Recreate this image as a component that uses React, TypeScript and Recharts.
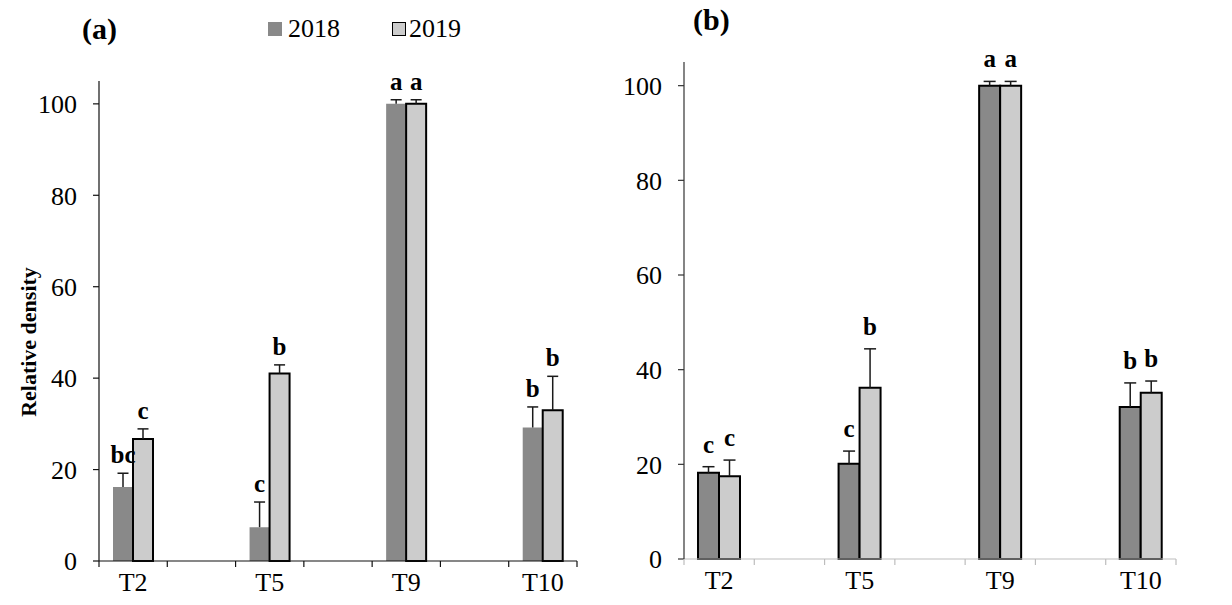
import React from 'react'
import { BarChart, Bar, XAxis, YAxis, LabelList, Legend, Label } from 'recharts'

const FONT = '"Liberation Serif", "Times New Roman", serif'
const DARK = '#898989'
const LIGHT = '#cccccc'

// 7 slots on the axis, the empty ones just give the gaps between groups
const categories = ['T2', '', 'T5', '', 'T9', '', 'T10']
const seriesNames = ['2018', '2019']
const yTicks = [0, 20, 40, 60, 80, 100]

// panel (a)
const a2018 = [16.2, null, 7.4, null, 100, null, 29.2]
const a2018Err = [3.0, null, 5.5, null, 0.9, null, 4.5]
const a2018Sig = ['bc', '', 'c', '', 'a', '', 'b']
const a2019 = [26.7, null, 41.0, null, 100, null, 33.0]
const a2019Err = [2.2, null, 1.9, null, 0.9, null, 7.4]
const a2019Sig = ['c', '', 'b', '', 'a', '', 'b']

// panel (b)
const b2018 = [18.2, null, 20.1, null, 100, null, 32.1]
const b2018Err = [1.3, null, 2.7, null, 0.9, null, 5.1]
const b2018Sig = ['c', '', 'c', '', 'a', '', 'b']
const b2019 = [17.5, null, 36.2, null, 100, null, 35.1]
const b2019Err = [3.4, null, 8.2, null, 0.9, null, 2.5]
const b2019Sig = ['c', '', 'b', '', 'a', '', 'b']

const buildRows = (v18: any[], e18: any[], s18: string[], v19: any[], e19: any[], s19: string[]) =>
  categories.map((name, i) => ({
    id: i,
    name,
    v18: v18[i],
    e18: e18[i],
    s18: s18[i],
    v19: v19[i],
    e19: e19[i],
    s19: s19[i],
  }))

const rowsA = buildRows(a2018, a2018Err, a2018Sig, a2019, a2019Err, a2019Sig)
const rowsB = buildRows(b2018, b2018Err, b2018Sig, b2019, b2019Err, b2019Sig)

// the stacked "error" bar is drawn as a whisker instead of a rect
const whisker = (half: number) => (props: any) => {
  const { x, y, width, height } = props
  if (!height || height <= 0) return <g />
  const cx = x + width / 2
  return (
    <g stroke="#1a1a1a" strokeWidth={1.5}>
      <line x1={cx} y1={y} x2={cx} y2={y + height} />
      <line x1={cx - half} y1={y} x2={cx + half} y2={y} />
    </g>
  )
}

// category labels centred, tick marks on the slot edges
const slotTick = (bandW: number, color: string) => (props: any) => {
  const { x, y, payload } = props
  const i = payload.value as number
  const half = bandW / 2
  return (
    <g>
      <line x1={x - half} y1={y} x2={x - half} y2={y + 6} stroke={color} strokeWidth={1.2} />
      {i === categories.length - 1 && (
        <line x1={x + half} y1={y} x2={x + half} y2={y + 6} stroke={color} strokeWidth={1.2} />
      )}
      <text x={x} y={y + 30} textAnchor="middle" fontSize={26} fontFamily={FONT} fill="#000">
        {categories[i]}
      </text>
    </g>
  )
}

const LegendBox = () => (
  <div style={{ display: 'flex', alignItems: 'center', fontFamily: FONT, fontSize: 26, color: '#000' }}>
    <span style={{ display: 'inline-block', width: 14, height: 14, background: DARK, marginRight: 6 }} />
    <span>{seriesNames[0]}</span>
    <span
      style={{
        display: 'inline-block',
        width: 12,
        height: 12,
        background: LIGHT,
        border: '1.5px solid #000',
        marginLeft: 52,
        marginRight: 3,
      }}
    />
    <span>{seriesNames[1]}</span>
  </div>
)

interface PanelProps {
  rows: any[]
  width: number
  yAxisW: number
  margin: { top: number; right: number; bottom: number; left: number }
  xAxisH: number
  barSize: number
  cap: number
  sigOffset: number
  stroke18: string
  xColor: string
  yColor: string
  withLegend?: boolean
  yLabel?: string
}

function Panel(p: PanelProps) {
  const plotW = p.width - p.margin.left - p.margin.right - p.yAxisW
  const bandW = plotW / categories.length
  const sigStyle = { fontSize: 25, fontWeight: 700, fontFamily: FONT, fill: '#000' }
  return (
    <BarChart width={p.width} height={605} data={p.rows} margin={p.margin} barGap={0} barSize={p.barSize}>
      <XAxis
        dataKey="id"
        type="category"
        height={p.xAxisH}
        interval={0}
        tickSize={0}
        tickMargin={0}
        tickLine={false}
        axisLine={{ stroke: p.xColor, strokeWidth: 1.2 }}
        tick={slotTick(bandW, p.xColor)}
      />
      <YAxis
        width={p.yAxisW}
        domain={[0, 105]}
        ticks={yTicks}
        interval={0}
        tickSize={6}
        tickMargin={16}
        axisLine={{ stroke: p.yColor, strokeWidth: 1.2 }}
        tickLine={{ stroke: p.yColor, strokeWidth: 1.2 }}
        tick={{ fill: '#000', fontSize: 26, fontFamily: FONT }}
      >
        {p.yLabel && (
          <Label
            content={(lp: any) => {
              const vb = lp.viewBox
              const cx = vb.x + 28
              const cy = vb.y + vb.height / 2 + 21
              return (
                <text
                  x={cx}
                  y={cy}
                  transform={`rotate(-90 ${cx} ${cy})`}
                  textAnchor="middle"
                  dominantBaseline="central"
                  fontSize={22}
                  fontWeight={700}
                  fontFamily={FONT}
                  fill="#000"
                >
                  {p.yLabel}
                </text>
              )
            }}
          />
        )}
      </YAxis>
      {p.withLegend && (
        <Legend
          layout="horizontal"
          align="center"
          verticalAlign="middle"
          content={() => <LegendBox />}
          wrapperStyle={{ top: 14, left: 268, width: 230 }}
        />
      )}
      <Bar dataKey="v18" stackId="s18" fill={DARK} stroke={p.stroke18} strokeWidth={2} isAnimationActive={false} legendType="none" />
      <Bar dataKey="e18" stackId="s18" fill="none" shape={whisker(p.cap)} isAnimationActive={false} legendType="none">
        <LabelList dataKey="s18" position="top" offset={p.sigOffset} style={sigStyle} />
      </Bar>
      <Bar dataKey="v19" stackId="s19" fill={LIGHT} stroke="#000" strokeWidth={2} isAnimationActive={false} legendType="none" />
      <Bar dataKey="e19" stackId="s19" fill="none" shape={whisker(p.cap)} isAnimationActive={false} legendType="none">
        <LabelList dataKey="s19" position="top" offset={p.sigOffset} style={sigStyle} />
      </Bar>
    </BarChart>
  )
}

const tagStyle: React.CSSProperties = {
  position: 'absolute',
  fontFamily: FONT,
  fontWeight: 700,
  fontSize: 30,
  lineHeight: '30px',
  color: '#000',
}

export default function App() {
  return (
    <div style={{ position: 'absolute', left: 0, top: 0, width: 1232, height: 605, background: '#fff', overflow: 'hidden' }}>
      <div style={{ position: 'absolute', left: 0, top: 0 }}>
        <Panel
          rows={rowsA}
          width={600}
          yAxisW={99}
          margin={{ top: 81, right: 23, bottom: 0, left: 0 }}
          xAxisH={44}
          barSize={20}
          cap={5.5}
          sigOffset={10}
          stroke18="none"
          xColor="#111"
          yColor="#111"
          withLegend
          yLabel="Relative density"
        />
      </div>
      <div style={{ position: 'absolute', left: 610, top: 0 }}>
        <Panel
          rows={rowsB}
          width={622}
          yAxisW={74}
          margin={{ top: 62, right: 56, bottom: 0, left: 0 }}
          xAxisH={46}
          barSize={21}
          cap={6}
          sigOffset={14}
          stroke18="#000"
          xColor="#bdbdbd"
          yColor="#333"
        />
      </div>
      <div style={{ ...tagStyle, left: 82, top: 14 }}>(a)</div>
      <div style={{ ...tagStyle, left: 693, top: 5 }}>(b)</div>
    </div>
  )
}
